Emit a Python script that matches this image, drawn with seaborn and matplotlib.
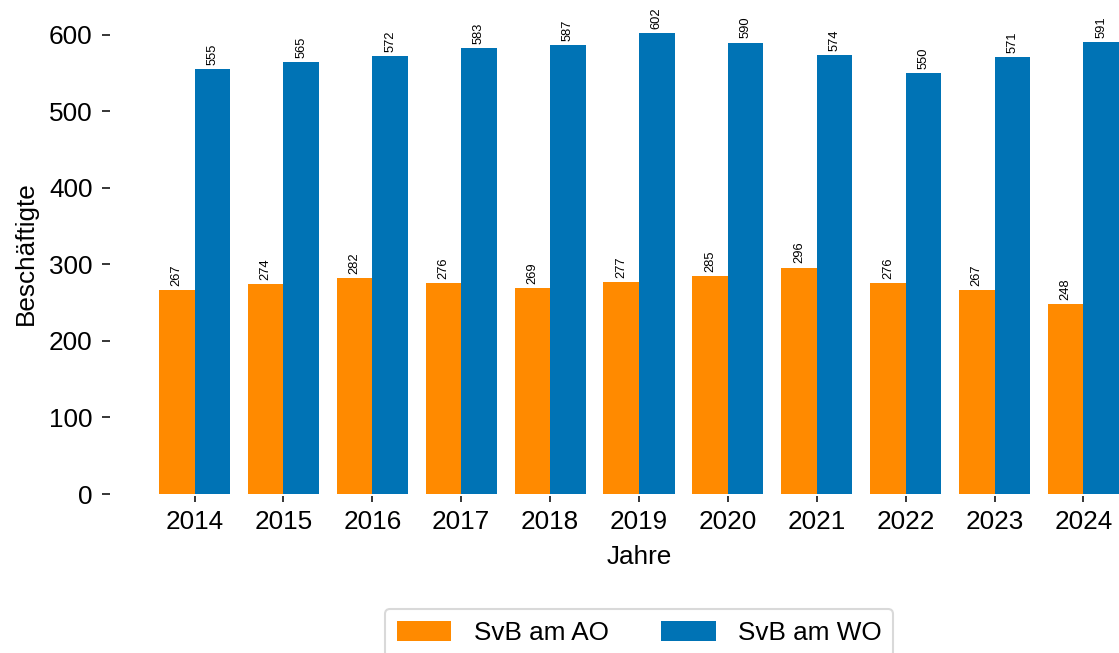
import matplotlib
matplotlib.use("Agg")
import matplotlib.pyplot as plt
import seaborn as sns
import pandas as pd

years = ["2014", "2015", "2016", "2017", "2018", "2019", "2020", "2021", "2022", "2023", "2024"]
svb_ao = [267, 274, 282, 276, 269, 277, 285, 296, 276, 267, 248]
svb_wo = [555, 565, 572, 583, 587, 602, 590, 574, 550, 571, 591]
series_names = ["SvB am AO", "SvB am WO"]
colors = ["#FF8A00", "#0073B5"]

df = pd.DataFrame({
    "Jahre": years * 2,
    "Beschäftigte": svb_ao + svb_wo,
    "Serie": [series_names[0]] * len(years) + [series_names[1]] * len(years),
})

sns.set_theme(style="white")
plt.rcParams["font.family"] = ["Liberation Sans", "DejaVu Sans"]
plt.rcParams["text.color"] = "black"

fig = plt.figure(figsize=(11.19, 6.53), dpi=100)
ax = fig.add_axes([159 / 1119, 159 / 653, 960 / 1119, (494 - 12) / 653])

sns.barplot(data=df, x="Jahre", y="Beschäftigte", hue="Serie",
            palette=colors, saturation=1, width=0.8, gap=0, ax=ax,
            linewidth=0, legend=True)

for c in ax.containers:
    ax.bar_label(c, rotation=90, padding=3, fontsize=9.3, color="black")

ax.set_xlim(-0.4, len(years) - 0.6)
ax.set_ylim(0, 630)
ax.set_yticks([0, 100, 200, 300, 400, 500, 600])

for s in ax.spines.values():
    s.set_visible(False)
ax.spines["left"].set_position(("outward", 35))
ax.spines["bottom"].set_position(("outward", 1.5))

ax.tick_params(axis="y", which="major", left=True, length=5.8, width=1.1,
               color="black", pad=7, labelsize=18.8, labelcolor="black")
ax.tick_params(axis="x", which="major", bottom=True, length=4.3, width=1.1,
               color="black", pad=6, labelsize=18.8, labelcolor="black")

ax.set_xlabel("Jahre", fontsize=18.8, color="black", labelpad=8)
ax.set_ylabel("Beschäftigte", fontsize=18.8, color="black", labelpad=8)

leg = ax.legend(loc="upper center", bbox_to_anchor=(0.5, -0.212), ncol=2,
                frameon=True, fontsize=18.8, title=None,
                handlelength=2.1, handleheight=0.8, handletextpad=0.85,
                columnspacing=2.0, borderpad=0.45, fancybox=True)
leg.get_frame().set_edgecolor("#d0d0d0")
leg.get_frame().set_linewidth(1.5)
for t in leg.get_texts():
    t.set_color("black")

fig.savefig("out.png", dpi=100)
